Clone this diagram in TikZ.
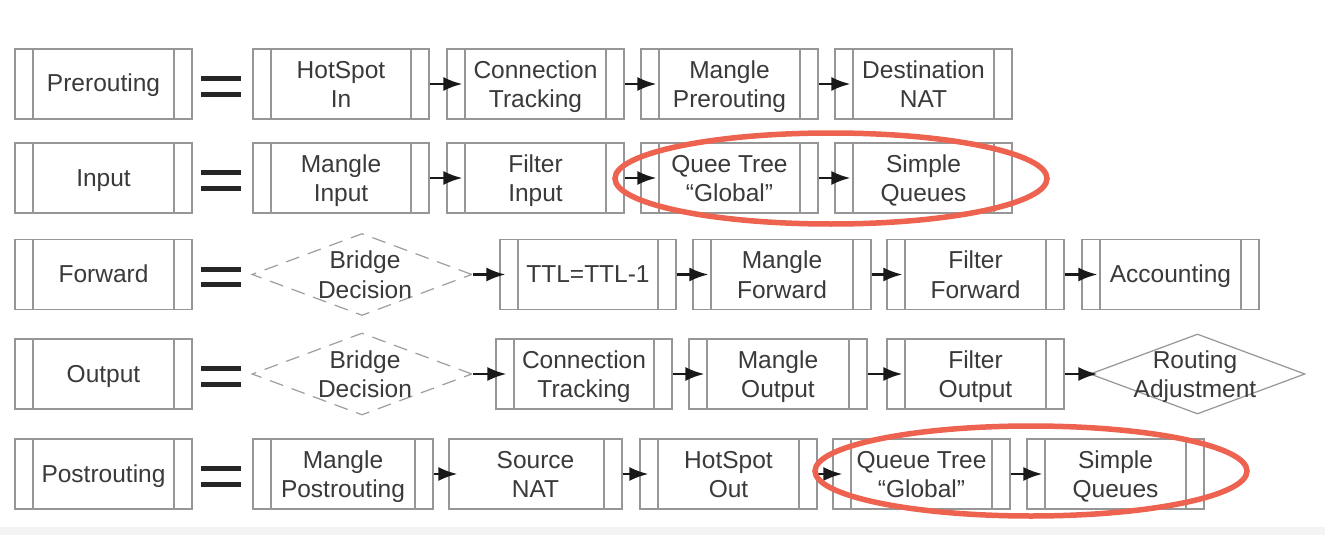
\documentclass[tikz,border=0pt]{standalone}
\usepackage{fontspec}
\setmainfont{Liberation Sans}
\usetikzlibrary{shapes.geometric,arrows.meta}
\definecolor{boxgray}{RGB}{150,150,150}
\definecolor{txtgray}{RGB}{58,58,58}
\definecolor{ringred}{RGB}{238,98,80}
\definecolor{stripgray}{RGB}{244,244,244}
\tikzset{
  boxfont/.style={font=\fontsize{24.5}{29.5}\selectfont},
  oneline/.style={text height=18pt, text depth=2pt},
  twoline/.style={text height=47.5pt, text depth=0pt},
  procbase/.style={draw=boxgray, line width=1.2pt, minimum height=70pt, inner sep=0pt,
    align=center, text=txtgray, boxfont, twoline},
  proc/.style={procbase,
    path picture={\draw[boxgray, line width=1.2pt]
      ([xshift=18pt]path picture bounding box.north west) -- ([xshift=18pt]path picture bounding box.south west)
      ([xshift=-18pt]path picture bounding box.north east) -- ([xshift=-18pt]path picture bounding box.south east);}},
  procR/.style={procbase,
    path picture={\draw[boxgray, line width=1.2pt]
      ([xshift=-18pt]path picture bounding box.north east) -- ([xshift=-18pt]path picture bounding box.south east);}},
  bw/.style={minimum width=#1},
  diam/.style={diamond, inner sep=0pt, line width=1.2pt},
  bridgediam/.style={diam, draw=black!38, dash pattern=on 14pt off 9pt, minimum width=220pt, minimum height=82pt},
  dtxt/.style={align=center, inner sep=0pt, boxfont, text=txtgray, twoline},
  arr/.style={-{Latex[length=19pt,width=14pt]}, line width=2.4pt, black!90},
  eqbar/.style={line width=5pt, black!85},
  ring/.style={draw=ringred, line width=5.5pt}
}
\begin{document}
\begin{tikzpicture}[x=1pt,y=-1pt]
\useasboundingbox (0,0) rectangle (1325,535);
\fill[white] (0,0) rectangle (1325,527);
\fill[stripgray] (0,527) rectangle (1325,535);

% left column
\node[proc, oneline, bw=177pt] (pre)  at (103.5,84)    {Prerouting};
\node[proc, oneline, bw=177pt] (inp)  at (103.5,178)   {Input};
\node[proc, oneline, bw=177pt] (fwd)  at (103.5,274.5) {Forward};
\node[proc, oneline, bw=177pt] (out)  at (103.5,374)   {Output};
\node[proc, oneline, bw=177pt] (post) at (103.5,474)   {Postrouting};

% equals signs
\foreach \c in {84,178,274.5,374,474}{
  \draw[eqbar] (201,\c-5.5) -- (241,\c-5.5);
  \draw[eqbar] (201,\c+10) -- (241,\c+10);
}

% row 1
\node[proc, bw=176pt] (hsin) at (341,84)   {HotSpot\\In};
\node[proc, bw=177pt] (ct1)  at (535.5,84) {Connection\\Tracking};
\node[proc, bw=177pt] (mp)   at (729.5,84) {Mangle\\Prerouting};
\node[proc, bw=177pt] (dnat) at (923.5,84) {Destination\\NAT};

% row 2
\node[proc, bw=176pt] (mi)  at (341,178)   {Mangle\\Input};
\node[proc, bw=177pt] (fi)  at (535.5,178) {Filter\\Input};
\node[proc, bw=177pt] (qt2) at (729.5,178) {Quee Tree\\“Global”};
\node[proc, bw=177pt] (sq2) at (923.5,178) {Simple\\Queues};

% row 3
\node[bridgediam] (bd3) at (362,274.5) {};
\node[dtxt] (bd3t) at (365,274.5) {Bridge\\Decision};
\node[proc, oneline, bw=176pt] (ttl) at (588,274.5)    {TTL=TTL-1};
\node[proc, bw=178pt] (mf)  at (782,274.5)    {Mangle\\Forward};
\node[proc, bw=177pt] (ff)  at (975.5,274.5)  {Filter\\Forward};
\node[proc, oneline, bw=177pt] (acc) at (1170.5,274.5) {Accounting};

% row 4
\node[bridgediam] (bd4) at (362,374) {};
\node[dtxt] (bd4t) at (365,374) {Bridge\\Decision};
\node[proc, bw=176pt] (ct4) at (584,374)   {Connection\\Tracking};
\node[proc, bw=178pt] (mo)  at (778,374)   {Mangle\\Output};
\node[proc, bw=177pt] (fo)  at (975.5,374) {Filter\\Output};
\node[diam, draw=boxgray, minimum width=215pt, minimum height=80pt] (ra) at (1197.5,374) {};
\node[dtxt] (rat) at (1195,374) {Routing\\Adjustment};

% row 5
\node[proc, bw=180pt]  (mpo)  at (343,474)    {Mangle\\Postrouting};
\node[procR, bw=173pt] (snat) at (535.5,474)  {Source\\NAT};
\node[proc, bw=177pt]  (hso)  at (728.5,474)  {HotSpot\\Out};
\node[proc, bw=177pt]  (qt5)  at (921.5,474)  {Queue Tree\\“Global”};
\node[proc, bw=177pt]  (sq5)  at (1115.5,474) {Simple\\Queues};

% arrows
\draw[arr] (hsin.east) -- ([xshift=16pt]ct1.west);
\draw[arr] (ct1.east)  -- ([xshift=16pt]mp.west);
\draw[arr] (mp.east)   -- ([xshift=16pt]dnat.west);

\draw[arr] (mi.east)  -- ([xshift=16pt]fi.west);
\draw[arr] (fi.east)  -- ([xshift=16pt]qt2.west);
\draw[arr] (qt2.east) -- ([xshift=16pt]sq2.west);

\draw[arr] (bd3.east) -- ([xshift=6pt]ttl.west);
\draw[arr] (ttl.east) -- ([xshift=16pt]mf.west);
\draw[arr] (mf.east)  -- ([xshift=16pt]ff.west);
\draw[arr] (ff.east)  -- ([xshift=16pt]acc.west);

\draw[arr] (bd4.east) -- ([xshift=11pt]ct4.west);
\draw[arr] (ct4.east) -- ([xshift=16pt]mo.west);
\draw[arr] (mo.east)  -- ([xshift=16pt]fo.west);
\draw[arr] (fo.east)  -- ([xshift=8pt]ra.west);

\draw[arr] (mpo.east)  -- ([xshift=9pt]snat.west);
\draw[arr] (snat.east) -- ([xshift=9pt]hso.west);
\draw[arr] (hso.east)  -- ([xshift=10pt]qt5.west);
\draw[arr] (qt5.east)  -- ([xshift=16pt]sq5.west);

% highlight rings
\draw[ring] (831,178.5) ellipse [x radius=216, y radius=45.5];
\draw[ring] (1031,471) ellipse [x radius=216, y radius=45];
\end{tikzpicture}
\end{document}
